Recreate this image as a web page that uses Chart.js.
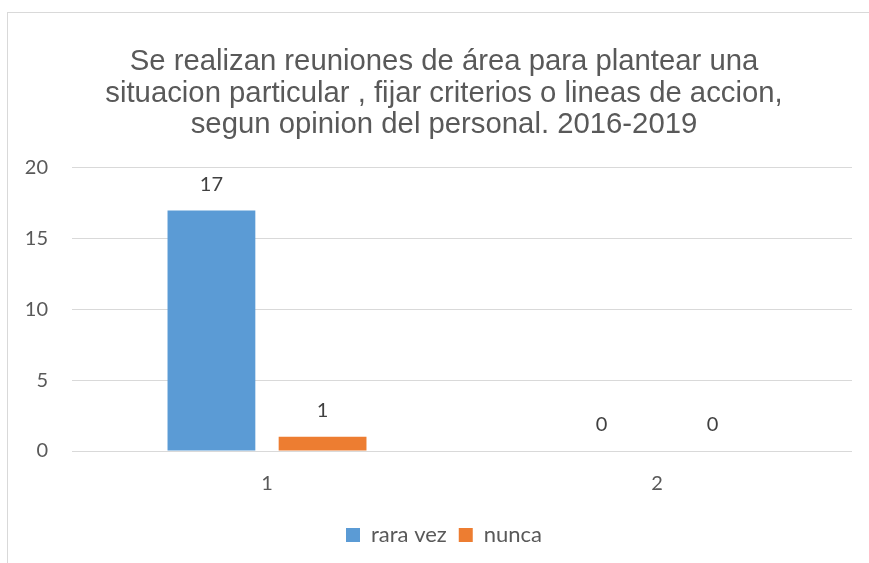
<!DOCTYPE html>
<html>
<head>
<meta charset="utf-8">
<script src="https://cdn.jsdelivr.net/npm/chart.js@4"></script>
<style>
  html, body { margin: 0; padding: 0; background: #fff; overflow: hidden; }
  #frame {
    position: absolute; left: 7px; top: 12px;
    width: 890px; height: 580px;
    border: 1px solid #d9d9d9;
    background: #fff;
  }
  #box { position: absolute; left: 0; top: 0; width: 872px; height: 550px; }
</style>
</head>
<body>
<div id="frame"><div id="box"><canvas id="myChart"></canvas></div></div>
<script>
const categories = ['1', '2'];
const raraVez = [17, 0];
const nunca = [1, 0];
const titleLines = [
  'Se realizan reuniones de área para plantear una',
  'situacion particular , fijar criterios o lineas de accion,',
  'segun opinion del personal. 2016-2019'
];

// simple value labels above each bar
const valueLabels = {
  id: 'valueLabels',
  afterDatasetsDraw(chart) {
    const c = chart.ctx;
    c.save();
    c.font = '20px Lato';
    c.fillStyle = '#404040';
    c.textAlign = 'center';
    c.textBaseline = 'middle';
    chart.data.datasets.forEach((ds, i) => {
      chart.getDatasetMeta(i).data.forEach((bar, j) => {
        c.fillText(String(ds.data[j]), bar.x, bar.y - 26);
      });
    });
    c.restore();
  }
};

// y axis is kept narrow so the title centres like the original;
// widen its clip box again so the tick labels are not cut
const widenY = {
  id: 'widenY',
  afterLayout(chart) {
    chart.scales.y.left = 0;
  }
};

const ctx = document.getElementById('myChart');

new Chart(ctx, {
  type: 'bar',
  data: {
    labels: categories,
    datasets: [{
      label: 'rara vez',
      data: raraVez,
      backgroundColor: '#5b9bd5',
      barPercentage: 0.79,
      categoryPercentage: 0.57
    },
    {
      label: 'nunca',
      data: nunca,
      backgroundColor: '#ed7d31',
      barPercentage: 0.79,
      categoryPercentage: 0.57
    }]
  },
  plugins: [valueLabels, widenY],
  options: {
    responsive: true,
    maintainAspectRatio: false,
    animation: false,
    layout: { padding: { left: 28, right: 28, top: 0, bottom: 7 } },
    plugins: {
      title: {
        display: true,
        text: titleLines,
        color: '#595959',
        font: { family: 'Liberation Sans', size: 29.3, weight: 'normal', lineHeight: 1.08 },
        padding: { top: 33, bottom: 27 }
      },
      legend: {
        position: 'bottom',
        labels: {
          color: '#595959',
          font: { family: 'Lato', size: 22 },
          boxWidth: 14,
          boxHeight: 14,
          padding: 12
        }
      },
      tooltip: { enabled: false }
    },
    scales: {
      x: {
        grid: { display: false },
        border: { display: false },
        ticks: { color: '#595959', font: { family: 'Lato', size: 20 }, padding: 13 },
        afterFit(scale) { scale.height += 3; }
      },
      y: {
        min: 0,
        max: 20,
        ticks: { stepSize: 5, color: '#595959', font: { family: 'Lato', size: 20 }, padding: 24 },
        grid: { color: '#d9d9d9', lineWidth: 1, drawTicks: false },
        border: { display: false },
        afterFit(scale) { scale.width = 36; }
      }
    }
  }
});
</script>
</body>
</html>
